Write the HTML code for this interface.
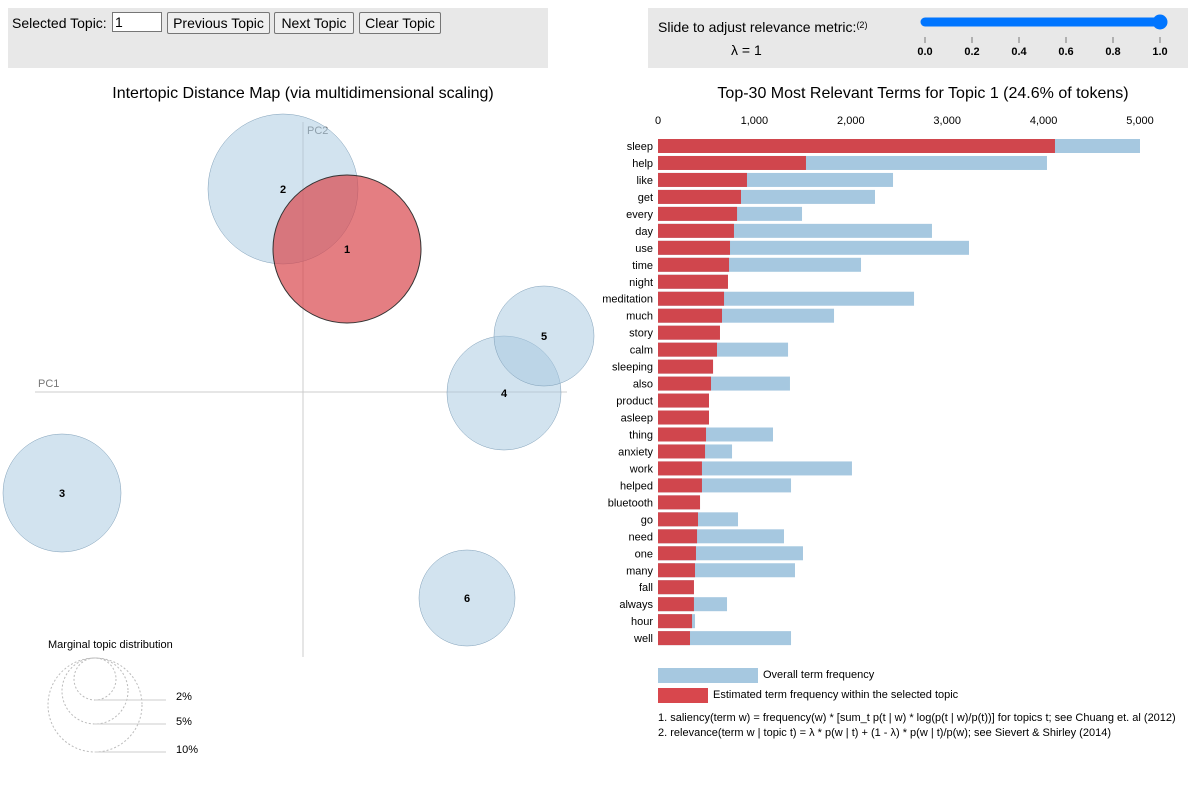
<!DOCTYPE html>
<html><head><meta charset="utf-8"><style>
body{margin:0;background:#fff;font-family:"Liberation Sans",Arial,sans-serif;width:1194px;height:795px;overflow:hidden;position:relative}
.panel{position:absolute;background:#e8e8e8}
button{font-family:"Liberation Sans",Arial,sans-serif;font-size:14px;padding:0 2px;height:22px;white-space:nowrap;background:#efefef;border:1px solid #767676;border-radius:2px;position:absolute;top:12px;box-sizing:border-box;text-align:center}
</style></head><body>
<div class="panel" style="left:8px;top:8px;width:540px;height:60px"></div>
<div style="position:absolute;left:12px;top:15px;font-size:14px">Selected Topic:</div>
<input value="1" style="position:absolute;left:112px;top:12px;width:44px;height:18px;font-size:14px;padding:0 2px;border:1px solid #767676">
<button style="left:167px;width:103px">Previous Topic</button>
<button style="left:274px;width:80px">Next Topic</button>
<button style="left:359px;width:82px">Clear Topic</button>
<div class="panel" style="left:648px;top:8px;width:540px;height:60px"></div>
<svg width="1194" height="795" style="position:absolute;left:0;top:0" id="svg">
<text x="658" y="32" font-size="14">Slide to adjust relevance metric:<tspan font-size="9" dy="-4">(2)</tspan></text>
<text x="731" y="55" font-size="14">λ = 1</text>
<g>
<line x1="925" y1="22" x2="1160" y2="22" stroke="#0075ff" stroke-width="9" stroke-linecap="round"/>
<circle cx="1160" cy="22" r="7.5" fill="#0075ff"/>
</g>
<g id="sliderTicks" font-size="11" font-weight="bold" text-anchor="middle"></g>
<text x="303" y="98" font-size="16" text-anchor="middle">Intertopic Distance Map (via multidimensional scaling)</text>
<text x="923" y="98" font-size="16" text-anchor="middle">Top-30 Most Relevant Terms for Topic 1 (24.6% of tokens)</text>
<line x1="35" y1="392" x2="567" y2="392" stroke="#ccc"/>
<line x1="303" y1="122" x2="303" y2="657" stroke="#ccc"/>
<text x="38" y="387" font-size="11" fill="#777">PC1</text>
<text x="307" y="134" font-size="11" fill="#777">PC2</text>
<g id="circles"></g>
<g id="bars"></g>
<g>
<text x="48" y="648" font-size="11">Marginal topic distribution</text>
<g fill="none" stroke="#bbb" stroke-dasharray="2,2">
<circle cx="95" cy="679" r="21"/><circle cx="95" cy="691" r="33"/><circle cx="95" cy="705" r="47"/></g>
<g stroke="#ccc"><line x1="95" y1="700" x2="166" y2="700"/><line x1="95" y1="724" x2="166" y2="724"/><line x1="95" y1="752" x2="166" y2="752"/></g>
<g font-size="11"><text x="176" y="700">2%</text><text x="176" y="725">5%</text><text x="176" y="753">10%</text></g>
</g>
<g font-size="11">
<rect x="658" y="668" width="100" height="15" fill="#a6c8e0"/><text x="763" y="678">Overall term frequency</text>
<rect x="658" y="688" width="50" height="15" fill="#d8474d"/><text x="713" y="698">Estimated term frequency within the selected topic</text>
<text x="658" y="721">1. saliency(term w) = frequency(w) * [sum_t p(t | w) * log(p(t | w)/p(t))] for topics t; see Chuang et. al (2012)</text>
<text x="658" y="736">2. relevance(term w | topic t) = λ * p(w | t) + (1 - λ) * p(w | t)/p(w); see Sievert &amp; Shirley (2014)</text>
</g>
</svg>
<script>
const sliderTicks=["0.0","0.2","0.4","0.6","0.8","1.0"];
const topicIds=[1,2,3,4,5,6];
const topicX=[347,283,62,504,544,467];
const topicY=[249,189,493,393,336,598];
const topicR=[74,75,59,57,50,48];
const terms=["sleep","help","like","get","every","day","use","time","night","meditation","much","story","calm","sleeping","also","product","asleep","thing","anxiety","work","helped","bluetooth","go","need","one","many","fall","always","hour","well"];
const overallFreq=[5000,4035,2438,2251,1494,2842,3226,2106,726,2656,1826,643,1349,571,1369,529,529,1193,768,2012,1380,436,830,1307,1504,1421,373,716,384,1380];
const topicFreq=[4118,1535,923,861,820,788,747,737,726,685,664,643,612,571,550,529,529,498,488,456,456,436,415,405,394,384,373,373,353,332];
const xTicks=[0,1000,2000,3000,4000,5000];
const NS="http://www.w3.org/2000/svg";
function mk(t,a,p){const e=document.createElementNS(NS,t);for(const k in a)e.setAttribute(k,a[k]);p.appendChild(e);return e;}
const st=document.getElementById('sliderTicks');
sliderTicks.forEach((t,i)=>{const x=925+i*47;
mk('line',{x1:x,y1:37,x2:x,y2:43,stroke:'#777'},st);
const tx=mk('text',{x:x,y:55},st);tx.textContent=t;

});
const cg=document.getElementById('circles');
const order=[1,2,3,4,5,0];
order.forEach(i=>{const sel=topicIds[i]===1;
const c=mk('circle',{cx:topicX[i],cy:topicY[i],r:topicR[i],fill:sel?'#d8474d':'#a6c8e0','fill-opacity':sel?0.7:0.5,stroke:sel?'#333':'#7f9fb8','stroke-width':sel?1:0.5},cg);


const t=mk('text',{x:topicX[i],y:topicY[i]+4,'font-size':11,'font-weight':'bold','text-anchor':'middle'},cg);t.textContent=topicIds[i];

});
const bg=document.getElementById('bars');
const x0=658,px=482/5000,y0=139,step=16.97,bh=14;
const xs=v=>x0+v*px;
xTicks.forEach(v=>{const t=mk('text',{x:xs(v),y:124,'font-size':11,'text-anchor':'middle'},bg);t.textContent=v.toLocaleString('en-US');

});
terms.forEach((w,i)=>{const y=y0+i*step;
const b=mk('rect',{x:x0,y:y,width:xs(overallFreq[i])-x0,height:bh,fill:'#a6c8e0'},bg);


const r=mk('rect',{x:x0,y:y,width:xs(topicFreq[i])-x0,height:bh,fill:'#d0464d'},bg);


const t=mk('text',{x:653,y:y+11,'font-size':11,'text-anchor':'end'},bg);t.textContent=w;

});
</script>
</body></html>
